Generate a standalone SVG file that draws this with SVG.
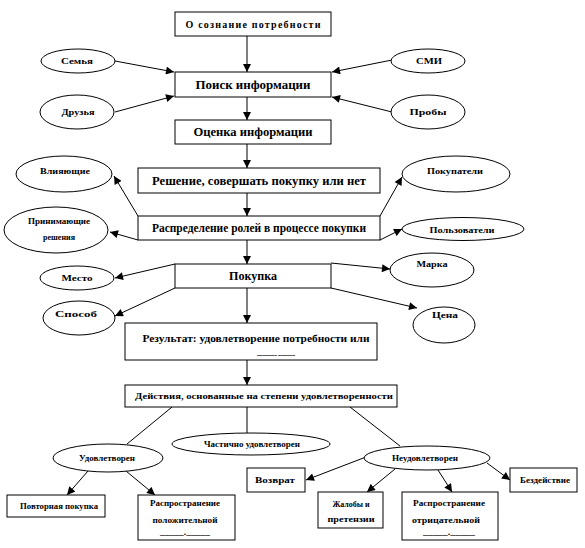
<svg xmlns="http://www.w3.org/2000/svg" width="585" height="548" viewBox="0 0 585 548">
<defs>
<marker id="ah" viewBox="0 0 10 10" refX="10" refY="5" markerWidth="9" markerHeight="8" markerUnits="userSpaceOnUse" orient="auto"><path d="M0,0 L10,5 L0,10 z" fill="#000"/></marker>
<style>
.b{fill:#fff;stroke:#000;stroke-width:1}
.c line{stroke:#000;stroke-width:1}
.a{marker-end:url(#ah)}
text{font-family:"Liberation Serif","Times New Roman",serif;font-weight:bold;fill:#000;text-anchor:middle}
.m{font-size:12px}
.s{font-size:10px}
.x{font-size:9px}
</style>
</defs>
<rect width="585" height="548" fill="#fff"/>
<g id="connectors" class="c">
<line class="a" x1="247" y1="36" x2="247" y2="72"/>
<line class="a" x1="247" y1="97" x2="247" y2="120"/>
<line x1="247" y1="144" x2="247" y2="150"/>
<line class="a" x1="247" y1="150" x2="247" y2="168"/>
<line class="a" x1="115" y1="61" x2="174" y2="72"/>
<line class="a" x1="115" y1="112" x2="174" y2="96"/>
<line class="a" x1="392" y1="60" x2="332" y2="72"/>
<line class="a" x1="392" y1="112" x2="332" y2="97"/>
<line class="a" x1="247" y1="193" x2="247" y2="216"/>
<line class="a" x1="138" y1="216" x2="114" y2="176"/>
<line class="a" x1="138" y1="240" x2="110" y2="232"/>
<line class="a" x1="380" y1="216" x2="402" y2="177"/>
<line class="a" x1="380" y1="240" x2="402" y2="229"/>
<line class="a" x1="247" y1="240" x2="247" y2="264"/>
<line class="a" x1="175" y1="264" x2="115" y2="278"/>
<line class="a" x1="175" y1="288" x2="115" y2="316"/>
<line class="a" x1="331" y1="263" x2="390" y2="269"/>
<line class="a" x1="331" y1="288" x2="417" y2="308"/>
<line class="a" x1="247" y1="288" x2="247" y2="323"/>
<line class="a" x1="247" y1="360" x2="247" y2="385"/>
<line x1="172" y1="407" x2="127" y2="444"/>
<line x1="247" y1="407" x2="247" y2="433"/>
<line x1="350" y1="407" x2="400" y2="446"/>
<line class="a" x1="88" y1="471" x2="67" y2="495"/>
<line class="a" x1="126" y1="471" x2="155" y2="495"/>
<line class="a" x1="366" y1="457" x2="306" y2="480"/>
<line class="a" x1="395" y1="469" x2="367" y2="492"/>
<line class="a" x1="438" y1="470" x2="452" y2="492"/>
<line class="a" x1="487" y1="463" x2="510" y2="480"/>
</g>
<g id="n_osoznanie"><rect class="b" x="175" y="12" width="156" height="24"/><text class="s" x="253" y="28" textLength="135" lengthAdjust="spacing">О сознание потребности</text></g>
<g id="n_poisk"><rect class="b" x="175" y="72" width="156" height="25"/><text class="m" x="253" y="89" textLength="115" lengthAdjust="spacingAndGlyphs">Поиск информации</text></g>
<g id="n_ocenka"><rect class="b" x="175" y="120" width="156" height="24"/><text class="m" x="253" y="136" textLength="119" lengthAdjust="spacingAndGlyphs">Оценка информации</text></g>
<g id="n_semya"><ellipse class="b" cx="78" cy="61" rx="37" ry="12"/><text class="x" x="77" y="64" textLength="32" lengthAdjust="spacingAndGlyphs">Семья</text></g>
<g id="n_smi"><ellipse class="b" cx="428" cy="61" rx="37" ry="12"/><text class="x" x="429" y="64" textLength="26" lengthAdjust="spacingAndGlyphs">СМИ</text></g>
<g id="n_druzya"><ellipse class="b" cx="77" cy="112" rx="37" ry="17"/><text class="x" x="78" y="115" textLength="33" lengthAdjust="spacingAndGlyphs">Друзья</text></g>
<g id="n_proby"><ellipse class="b" cx="428" cy="112" rx="37" ry="17"/><text class="x" x="428" y="115" textLength="37" lengthAdjust="spacingAndGlyphs">Пробы</text></g>
<g id="n_reshenie"><rect class="b" x="138" y="168" width="242" height="25"/><text class="m" x="259" y="185" textLength="214" lengthAdjust="spacingAndGlyphs">Решение, совершать покупку или нет</text></g>
<g id="n_raspred"><rect class="b" x="138" y="216" width="242" height="24"/><text class="m" x="259" y="232" textLength="214" lengthAdjust="spacingAndGlyphs">Распределение ролей в процессе покупки</text></g>
<g id="n_vliyayushchie"><ellipse class="b" cx="64" cy="174" rx="48" ry="18"/><text class="x" x="65" y="174" textLength="50" lengthAdjust="spacingAndGlyphs">Влияющие</text></g>
<g id="n_prinimayushchie"><ellipse class="b" cx="56" cy="230" rx="52" ry="23"/><text class="x" x="59" y="224" textLength="62" lengthAdjust="spacingAndGlyphs">Принимающие</text><text class="x" x="59" y="240" textLength="32" lengthAdjust="spacingAndGlyphs">решения</text></g>
<g id="n_pokupateli"><ellipse class="b" cx="456" cy="174" rx="54" ry="18"/><text class="x" x="455" y="174" textLength="56" lengthAdjust="spacingAndGlyphs">Покупатели</text></g>
<g id="n_polzovateli"><ellipse class="b" cx="463" cy="229" rx="61" ry="11.5"/><text class="x" x="462" y="233" textLength="65" lengthAdjust="spacingAndGlyphs">Пользователи</text></g>
<g id="n_pokupka"><rect class="b" x="175" y="264" width="156" height="24"/><text class="m" x="253" y="280" textLength="48" lengthAdjust="spacingAndGlyphs">Покупка</text></g>
<g id="n_mesto"><ellipse class="b" cx="77" cy="278" rx="37" ry="12"/><text class="x" x="77" y="281" textLength="31" lengthAdjust="spacingAndGlyphs">Место</text></g>
<g id="n_marka"><ellipse class="b" cx="432" cy="270" rx="42" ry="17"/><text class="x" x="432" y="267" textLength="31" lengthAdjust="spacingAndGlyphs">Марка</text></g>
<g id="n_sposob"><ellipse class="b" cx="79" cy="318" rx="36" ry="17"/><text class="x" x="76" y="317" textLength="42" lengthAdjust="spacingAndGlyphs">Способ</text></g>
<g id="n_cena"><ellipse class="b" cx="444" cy="325" rx="31" ry="18"/><text class="x" x="445" y="318" textLength="26" lengthAdjust="spacingAndGlyphs">Цена</text></g>
<g id="n_rezultat"><rect class="b" x="125" y="323" width="252" height="37"/><text class="s" x="256" y="342" textLength="227" lengthAdjust="spacingAndGlyphs">Результат: удовлетворение потребности или</text><text class="x" x="276" y="355" textLength="38" lengthAdjust="spacingAndGlyphs">_______ ______</text></g>
<g id="n_deystviya"><rect class="b" x="125" y="385" width="272" height="22"/><text class="x" x="264" y="399" textLength="258" lengthAdjust="spacingAndGlyphs">Действия, основанные на степени удовлетворенности</text></g>
<g id="n_chastichno"><ellipse class="b" cx="251" cy="444" rx="79" ry="11"/><text class="x" x="252" y="447" textLength="96" lengthAdjust="spacingAndGlyphs">Частично удовлетворен</text></g>
<g id="n_udovl"><ellipse class="b" cx="108" cy="458" rx="55" ry="14"/><text class="x" x="107" y="461" textLength="56" lengthAdjust="spacingAndGlyphs">Удовлетворен</text></g>
<g id="n_neudovl"><ellipse class="b" cx="427" cy="458" rx="63" ry="12"/><text class="x" x="425" y="461" textLength="66" lengthAdjust="spacingAndGlyphs">Неудовлетворен</text></g>
<g id="n_povtornaya"><rect class="b" x="7" y="495" width="98" height="22"/><text class="x" x="59" y="509" textLength="78" lengthAdjust="spacingAndGlyphs">Повторная покупка</text></g>
<g id="n_rasp_pol"><rect class="b" x="138" y="495" width="97" height="45"/><text class="x" x="185" y="506" textLength="70" lengthAdjust="spacingAndGlyphs">Распространение</text><text class="x" x="185" y="523" textLength="65" lengthAdjust="spacingAndGlyphs">положительной</text><text class="x" x="185" y="535" textLength="50" lengthAdjust="spacingAndGlyphs">_____._____</text></g>
<g id="n_vozvrat"><rect class="b" x="247" y="468" width="58" height="24"/><text class="x" x="275" y="483" textLength="40" lengthAdjust="spacingAndGlyphs">Возврат</text></g>
<g id="n_zhaloby"><rect class="b" x="318" y="492" width="65" height="36"/><text class="x" x="351" y="507" textLength="37" lengthAdjust="spacingAndGlyphs">Жалобы и</text><text class="x" x="351" y="522" textLength="47" lengthAdjust="spacingAndGlyphs">претензии</text></g>
<g id="n_rasp_otr"><rect class="b" x="402" y="492" width="96" height="48"/><text class="x" x="449" y="506" textLength="72" lengthAdjust="spacingAndGlyphs">Распространение</text><text class="x" x="446" y="523" textLength="68" lengthAdjust="spacingAndGlyphs">отрицательной</text><text class="x" x="449" y="535" textLength="52" lengthAdjust="spacingAndGlyphs">_____._____</text></g>
<g id="n_bezdeystvie"><rect class="b" x="510" y="468" width="67" height="24"/><text class="x" x="545" y="483" textLength="50" lengthAdjust="spacingAndGlyphs">Бездействие</text></g>
</svg>
